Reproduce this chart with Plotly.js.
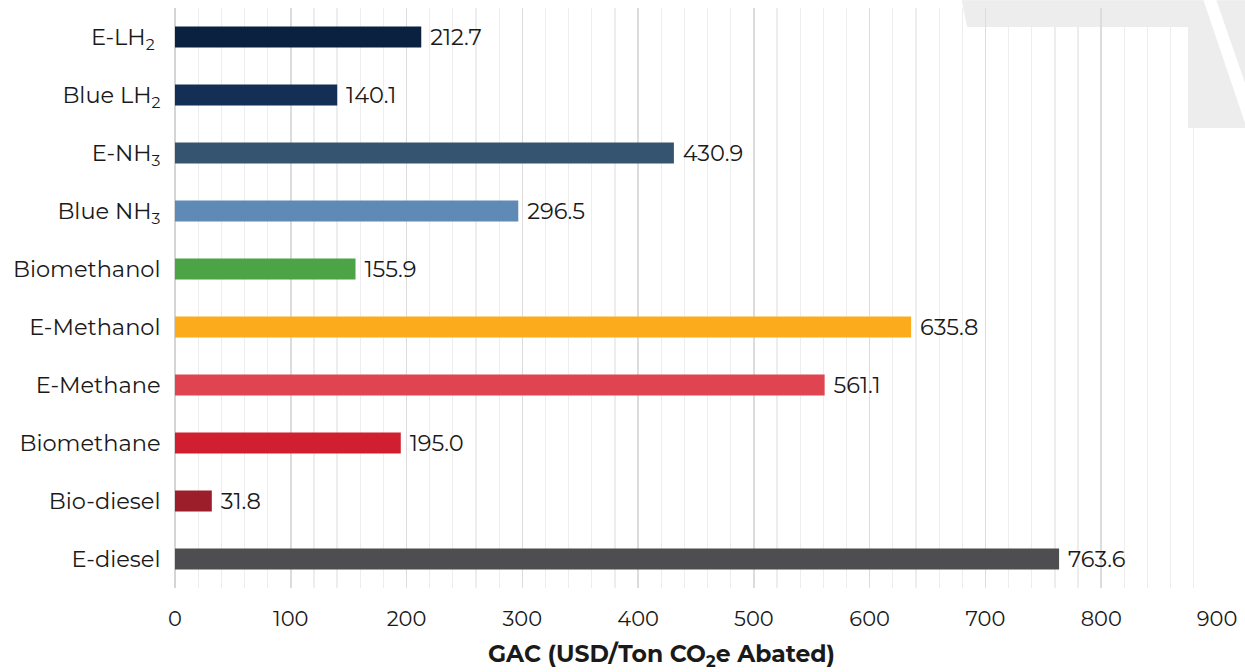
<!DOCTYPE html>
<html><head><meta charset="utf-8">
<script src="https://cdn.plot.ly/plotly-3.0.1.min.js"></script>
<style>html,body{margin:0;padding:0;background:#fff}#chart{width:1245px;height:672px}</style>
</head><body><div id="chart"></div>
<script>
const categories = ["E-LH<sub>2</sub> ", "Blue LH<sub>2</sub>", "E-NH<sub>3</sub>", "Blue NH<sub>3</sub>", "Biomethanol", "E-Methanol", "E-Methane", "Biomethane", "Bio-diesel", "E-diesel"];
const values = [212.7, 140.1, 430.9, 296.5, 155.9, 635.8, 561.1, 195.0, 31.8, 763.6];
const barColors = ["#0a2140", "#142f55", "#34546f", "#5e8ab5", "#4ca446", "#fbab1c", "#e04450", "#d01f30", "#9c1e2b", "#4e4e50"];
const xTitle = "GAC (USD/Ton CO<sub>2</sub>e Abated)";

const font = "Montserrat, 'Open Sans', Lato, sans-serif";
const trace = {
  type: "bar", orientation: "h",
  x: values, y: categories,
  marker: {color: barColors},
  texttemplate: "\u00a0%{x:.1f}", textposition: "outside", cliponaxis: false,
  constraintext: "none",
  textfont: {family: font, size: 22.5, color: "#1a1a1a"},
  width: 0.36, hoverinfo: "none"
};
const layout = {
  width: 1245, height: 672,
  margin: {l: 175, r: 28, t: 8, b: 84},
  paper_bgcolor: "#ffffff", plot_bgcolor: "rgba(0,0,0,0)",
  showlegend: false,
  font: {family: font, color: "#1a1a1a"},
  xaxis: {
    range: [0, 900], dtick: 100, tick0: 0,
    showgrid: true, gridcolor: "#dcdcdc", gridwidth: 1.5,
    zeroline: true, zerolinecolor: "#d5d5d5", zerolinewidth: 1.5,
    minor: {dtick: 20, showgrid: true, gridcolor: "#ededed", gridwidth: 1.2},
    ticks: "outside", ticklen: 12, tickcolor: "rgba(0,0,0,0)",
    tickfont: {family: font, size: 21, color: "#1a1a1a"},
    showline: false, fixedrange: true
  },
  yaxis: {
    autorange: "reversed", type: "category",
    ticks: "outside", ticklen: 9, tickcolor: "rgba(0,0,0,0)",
    tickfont: {family: font, size: 22.5, color: "#1a1a1a"},
    showgrid: false, showline: false, fixedrange: true
  },
  annotations: [{
    text: "<b>" + xTitle + "</b>", xref: "paper", yref: "paper",
    x: 0.467, y: 0, yshift: -67, xanchor: "center", yanchor: "middle",
    showarrow: false, font: {family: font, size: 23.5, color: "#1a1a1a"}
  }],
  shapes: [
    {type: "path", xref: "paper", yref: "paper", layer: "below", line: {width: 0}, fillcolor: "#ededed",
     path: "M 0.755,1.0135 L 0.987,1.0135 L 1.0269,0.8017 L 1.0269,0.7931 L 0.9722,0.7931 L 0.9722,0.9672 L 0.7601,0.9672 Z"},
    {type: "path", xref: "paper", yref: "paper", layer: "below", line: {width: 0}, fillcolor: "#ededed",
     path: "M 0.9994,1.0135 L 1.0269,1.0135 L 1.0269,0.8707 Z"}
  ]
};
Plotly.newPlot("chart", [trace], layout, {displayModeBar: false, staticPlot: true});
</script></body></html>
